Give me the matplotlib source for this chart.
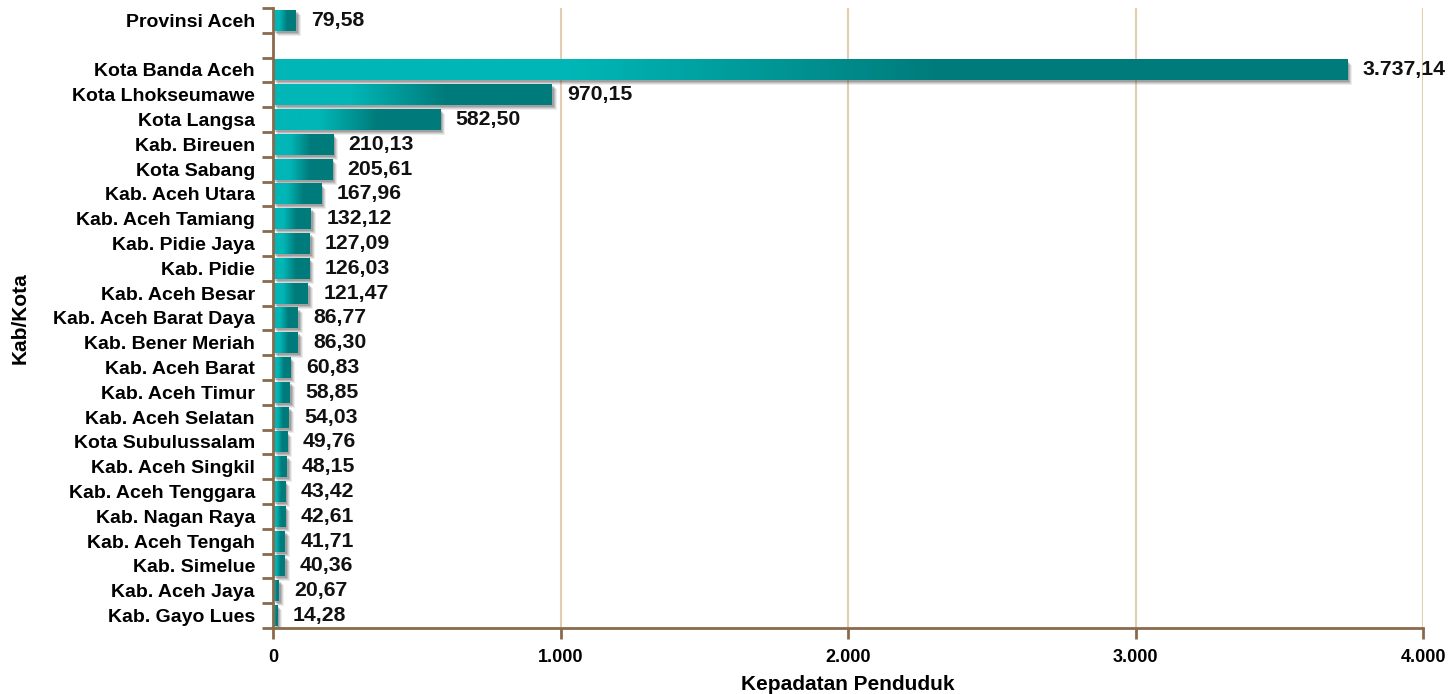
import numpy as np
import matplotlib
matplotlib.use("Agg")
import matplotlib.pyplot as plt
import matplotlib.transforms as mtransforms
from matplotlib.patches import Rectangle
from matplotlib.colors import to_rgb

plt.rcParams['font.family'] = ['Liberation Sans', 'DejaVu Sans']
plt.rcParams['font.weight'] = 'bold'

province_label = "Provinsi Aceh"
province_value = 79.58

regions = ["Kota Banda Aceh", "Kota Lhokseumawe", "Kota Langsa", "Kab. Bireuen",
           "Kota Sabang", "Kab. Aceh Utara", "Kab. Aceh Tamiang", "Kab. Pidie Jaya",
           "Kab. Pidie", "Kab. Aceh Besar", "Kab. Aceh Barat Daya", "Kab. Bener Meriah",
           "Kab. Aceh Barat", "Kab. Aceh Timur", "Kab. Aceh Selatan", "Kota Subulussalam",
           "Kab. Aceh Singkil", "Kab. Aceh Tenggara", "Kab. Nagan Raya", "Kab. Aceh Tengah",
           "Kab. Simelue", "Kab. Aceh Jaya", "Kab. Gayo Lues"]
region_values = [3737.14, 970.15, 582.50, 210.13, 205.61, 167.96, 132.12, 127.09,
                 126.03, 121.47, 86.77, 86.30, 60.83, 58.85, 54.03, 49.76, 48.15,
                 43.42, 42.61, 41.71, 40.36, 20.67, 14.28]

x_ticks = [0, 1000, 2000, 3000, 4000]
x_label = "Kepadatan Penduduk"
y_label = "Kab/Kota"

labels = [province_label, ""] + regions
values = [province_value, np.nan] + region_values
n = len(labels)
ypos = [n - 0.5 - i for i in range(n)]

def fmt_id(v, dec=2):
    s = f"{v:,.{dec}f}"
    return s.replace(",", "X").replace(".", ",").replace("X", ".")

fig = plt.figure(figsize=(14.56, 6.94), dpi=100)
ax = fig.add_axes([273/1456, 1 - 628/694, 1150/1456, 620/694])
ax.set_xlim(0, 4000)
ax.set_ylim(0, n)

light = np.array(to_rgb("#00b6b6"))
dark = np.array(to_rgb("#007b7b"))
N = 256
t = np.linspace(0, 1, N)
f = np.clip((t - 0.28) / (0.62 - 0.28), 0, 1)
grad = (light[None, :] * (1 - f[:, None]) + dark[None, :] * f[:, None])[None, :, :]

h = 0.84
for y, v in zip(ypos, values):
    if np.isnan(v):
        continue
    # soft drop shadow
    for dx, dy, a in [(5, -5, 0.10), (4, -4, 0.14), (3, -3, 0.2), (2, -2, 0.25)]:
        tr = ax.transData + mtransforms.ScaledTranslation(dx / 100, dy / 100, fig.dpi_scale_trans)
        ax.add_patch(Rectangle((0, y - h / 2), v, h, transform=tr, facecolor="#505050",
                               alpha=a, edgecolor="none", zorder=2))
    ax.imshow(grad, extent=[0, v, y - h / 2, y + h / 2], aspect="auto",
              interpolation="bilinear", zorder=3)
    ax.annotate(fmt_id(v), xy=(v, y), xytext=(11, 0), textcoords="offset points",
                ha="left", va="center", fontsize=15.3, fontweight="bold", color="#111111",
                zorder=5)

ax.set_xlim(0, 4000)
ax.set_ylim(0, n)

brown = "#8a6a4c"
grid_c = "#e2cdb0"
for xv in x_ticks[1:]:
    ax.axvline(xv, color=grid_c, lw=1.5, zorder=1)

for s in ["top", "right"]:
    ax.spines[s].set_visible(False)
for s in ["left", "bottom"]:
    ax.spines[s].set_color(brown)
    ax.spines[s].set_linewidth(2)
    ax.spines[s].set_zorder(6)

ax.set_xticks(x_ticks)
ax.set_xticklabels([fmt_id(v, 0) for v in x_ticks], fontsize=13, fontweight="bold")
ax.tick_params(axis="x", length=8, width=2, color=brown, pad=7)

ax.set_yticks(ypos)
ax.set_yticklabels(labels, fontsize=14, fontweight="bold")
ax.set_yticks(np.arange(0, n + 1), minor=True)
ax.tick_params(axis="y", which="major", length=0, pad=13)
ax.tick_params(axis="y", which="minor", length=8, width=2, color=brown)

ax.set_xlabel(x_label, fontsize=15, fontweight="bold")
ax.xaxis.set_label_coords(0.5, -(685 - 628) / 620)
ax.xaxis.label.set_va("center")
ax.set_ylabel(y_label, fontsize=15, fontweight="bold")
ax.yaxis.set_label_coords(-243/1150, 0.5)

fig.savefig("out.png", dpi=100)
